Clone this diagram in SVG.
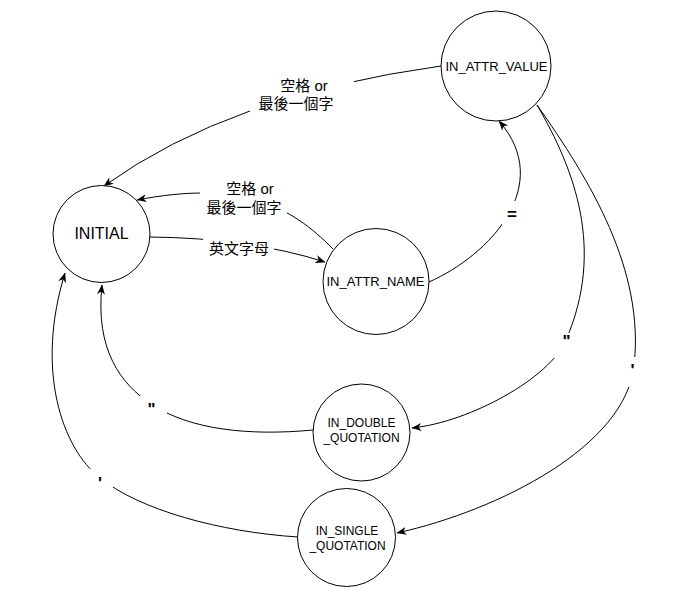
<svg xmlns="http://www.w3.org/2000/svg" width="694" height="597" viewBox="0 0 694 597">
<style>
.node{fill:#fff;stroke:#000;stroke-width:1}
.nt{font-family:"Liberation Sans","Noto Sans CJK TC",sans-serif;fill:#000;text-anchor:middle}
.edge{fill:none;stroke:#000;stroke-width:1}
.lbg{fill:#fff;stroke:none}
.lt{font-family:"Liberation Sans","Noto Sans CJK TC",sans-serif;font-size:15px;fill:#000;text-anchor:middle}
.q{font-family:"Liberation Sans",sans-serif;font-size:17px;font-weight:bold;fill:#000;text-anchor:middle}
</style>
<defs>
<marker id="arr" viewBox="0 0 10 8" refX="9.5" refY="4" markerWidth="10" markerHeight="8" markerUnits="userSpaceOnUse" orient="auto">
<path d="M0,0 L10,4 L0,8 L3,4 z" fill="#000"/>
</marker>
</defs>
<rect width="694" height="597" fill="#fff"/>
<g id="connectors">
<path class="edge" d="M441,66 Q 230,95 104,186" marker-end="url(#arr)"/>
<path class="edge" d="M333,249 C 290,205 240,180 137,200" marker-end="url(#arr)"/>
<path class="edge" d="M150,237 Q 250,238 325,262" marker-end="url(#arr)"/>
<path class="edge" d="M429,282 C 490,255 555,185 499,121" marker-end="url(#arr)"/>
<path class="edge" d="M537,105 C 575,170 605,250 566,340 C 550,378 470,422 412,428" marker-end="url(#arr)"/>
<path class="edge" d="M537,105 C 590,180 645,270 634,366 C 625,446 500,510 397,533" marker-end="url(#arr)"/>
<path class="edge" d="M313,430 C 250,436 190,430 151,404 C 121,384 95,350 102,285" marker-end="url(#arr)"/>
<path class="edge" d="M298,537 C 220,532 140,510 100,478 C 62,448 35,370 65,273" marker-end="url(#arr)"/>
<g id="edge-labels">
<rect class="lbg" x="250" y="74" width="104" height="40"/>
<text class="lt" x="304" y="90.5">空格 or</text>
<text class="lt" x="296" y="108.7">最後一個字</text>
<rect class="lbg" x="200" y="177" width="87" height="40"/>
<text class="lt" x="250" y="193.7">空格 or</text>
<text class="lt" x="244" y="212.7">最後一個字</text>
<rect class="lbg" x="203" y="238" width="71" height="20"/>
<text class="lt" x="239" y="253.7">英文字母</text>
<rect class="lbg" x="502" y="201" width="20" height="25"/>
<text class="q" x="512" y="219.5">=</text>
<rect class="lbg" x="554" y="333" width="22" height="25"/>
<text class="q" x="566.5" y="347">"</text>
<rect class="lbg" x="622" y="357" width="22" height="30"/>
<text class="q" x="632.5" y="376">'</text>
<rect class="lbg" x="140" y="396" width="27" height="22"/>
<text class="q" x="151.5" y="414.5">"</text>
<rect class="lbg" x="89" y="469" width="24" height="22"/>
<text class="q" x="100" y="488.5">'</text>
</g>
</g>
<g id="INITIAL">
<circle class="node" cx="101.5" cy="234" r="48.5"/>
<text class="nt" x="101.5" y="238.5" font-size="16">INITIAL</text>
</g>
<g id="IN_ATTR_NAME">
<circle class="node" cx="376" cy="281.5" r="53"/>
<text class="nt" x="375.5" y="286" font-size="13">IN_ATTR_NAME</text>
</g>
<g id="IN_ATTR_VALUE">
<circle class="node" cx="496" cy="66" r="55"/>
<text class="nt" x="496.5" y="70.5" font-size="13">IN_ATTR_VALUE</text>
</g>
<g id="IN_DOUBLE_QUOTATION">
<circle class="node" cx="361.5" cy="432.5" r="48.5"/>
<text class="nt" x="361.5" y="427" font-size="12">IN_DOUBLE</text>
<text class="nt" x="361.5" y="441.5" font-size="12">_QUOTATION</text>
</g>
<g id="IN_SINGLE_QUOTATION">
<circle class="node" cx="346.5" cy="537.5" r="49"/>
<text class="nt" x="347" y="534.5" font-size="12">IN_SINGLE</text>
<text class="nt" x="347.5" y="549.5" font-size="12">_QUOTATION</text>
</g>
</svg>
